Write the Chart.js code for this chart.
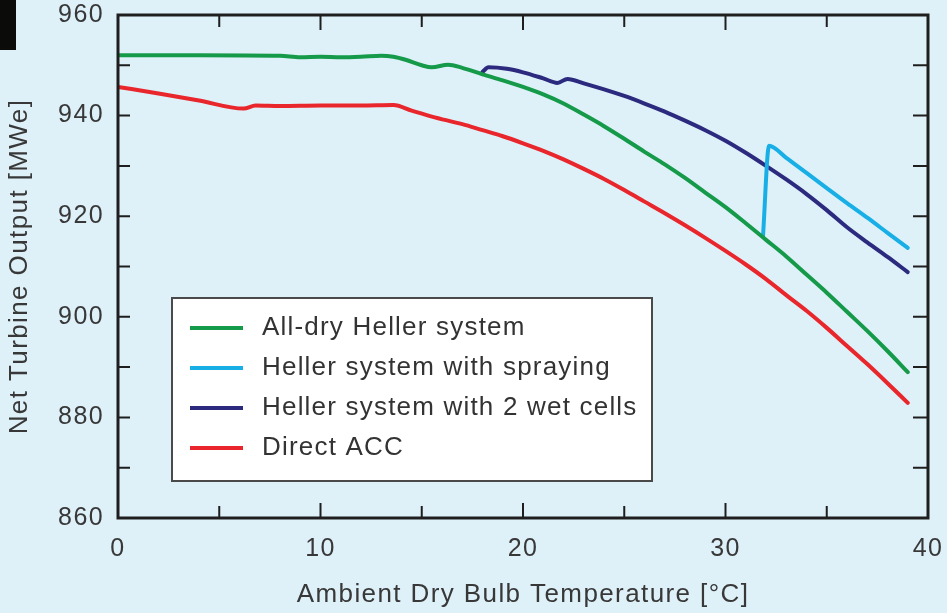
<!DOCTYPE html>
<html>
<head>
<meta charset="utf-8">
<script src="https://cdn.jsdelivr.net/npm/chart.js@4/dist/chart.umd.min.js"></script>
<style>
  html, body { margin: 0; padding: 0; background: #def0f8; }
  #wrap { position: relative; width: 947px; height: 613px; }
  #corner { position: absolute; left: 0; top: 0; width: 16px; height: 50px; background: #0b0b0a; }
</style>
</head>
<body>
<div id="wrap">
  <canvas id="turbineChart" width="947" height="613"></canvas>
  <div id="corner"></div>
</div>
<script>
// ambient temperature [°C] and net output [MWe] per cooling option
const tempDry = [0, 4, 8, 9, 10, 11, 12, 13, 13.6, 14.2, 15, 15.5, 16.3, 17, 18, 19, 20, 21, 22, 23, 24, 25, 26, 27, 28, 29, 30, 31, 32, 33, 34, 35, 36, 37, 38, 39];
const outDry = [952.0, 952.0, 951.9, 951.6, 951.7, 951.6, 951.7, 951.9, 951.7, 951.1, 950.0, 949.6, 950.1, 949.5, 948.2, 947.0, 945.7, 944.2, 942.4, 940.2, 937.9, 935.4, 932.8, 930.3, 927.6, 924.7, 921.8, 918.6, 915.3, 912.0, 908.4, 904.8, 901.0, 897.2, 893.2, 889.0];

const tempSpray = [31.85, 32.15, 33, 34, 35, 36, 37, 38, 39];
const outSpray = [915.9, 934.0, 931.6, 928.6, 925.6, 922.6, 919.7, 916.7, 913.7];

const tempWet = [18.0, 18.3, 19.2, 20, 21, 21.7, 22.2, 23, 24, 25, 26, 27, 28, 29, 30, 31, 32, 33, 34, 35, 36, 37, 38, 39];
const outWet = [948.7, 949.6, 949.3, 948.6, 947.4, 946.5, 947.3, 946.4, 945.2, 943.9, 942.4, 940.8, 939.0, 937.1, 935.0, 932.6, 930.0, 927.3, 924.4, 921.2, 917.8, 914.8, 911.9, 908.9];

const tempAcc = [0, 2, 4, 6.2, 6.8, 8, 10, 12, 13.6, 14.5, 15.5, 17, 18, 19, 20, 21, 22, 23, 24, 25, 26, 27, 28, 29, 30, 31, 32, 33, 34, 35, 36, 37, 38, 39];
const outAcc = [945.7, 944.4, 943.0, 941.4, 942.0, 941.9, 942.0, 942.0, 942.1, 941.0, 939.8, 938.3, 937.1, 935.9, 934.5, 933.0, 931.3, 929.4, 927.4, 925.2, 922.9, 920.6, 918.2, 915.7, 913.1, 910.4, 907.5, 904.3, 901.2, 897.8, 894.2, 890.6, 886.8, 882.9];

const seriesNames = ['All-dry Heller system', 'Heller system with spraying', 'Heller system with 2 wet cells', 'Direct ACC'];
const seriesColors = ['#159a4a', '#18afe6', '#2b2a7e', '#e8262b'];

const xTicks = [0, 10, 20, 30, 40];
const yTicks = [860, 880, 900, 920, 940, 960];

const TEXT = '#383838';
const FONT = "'Liberation Sans', Arial, sans-serif";

function pts(xs, ys) {
  return xs.map((x, i) => ({ x: x, y: ys[i] }));
}

// wider letter spacing for the axis text, reset before the plot is drawn
const spacingPlugin = {
  id: 'spacing',
  beforeLayout(chart) { chart.ctx.letterSpacing = '1.4px'; },
  beforeDraw(chart) { chart.ctx.letterSpacing = '1.4px'; },
  beforeDatasetsDraw(chart) { chart.ctx.letterSpacing = '0px'; }
};

// frame, inward ticks on all four sides and the boxed legend
const framePlugin = {
  id: 'frame',
  afterDatasetsDraw(chart) {
    const { ctx, chartArea: a, scales: { x, y } } = chart;
    ctx.save();
    ctx.strokeStyle = '#1e1e1e';
    ctx.lineWidth = 2;
    for (let t = 5; t < 40; t += 5) {
      const px = x.getPixelForValue(t);
      const len = t % 10 === 0 ? 15 : 12;
      ctx.beginPath();
      ctx.moveTo(px, a.bottom); ctx.lineTo(px, a.bottom - len);
      ctx.moveTo(px, a.top); ctx.lineTo(px, a.top + len);
      ctx.stroke();
    }
    for (let v = 870; v < 960; v += 10) {
      const py = y.getPixelForValue(v);
      ctx.beginPath();
      ctx.moveTo(a.left, py); ctx.lineTo(a.left + 12, py);
      ctx.moveTo(a.right, py); ctx.lineTo(a.right - 15, py);
      ctx.stroke();
    }
    ctx.lineWidth = 3;
    ctx.strokeRect(a.left, a.top, a.right - a.left, a.bottom - a.top);

    // legend
    const bx = a.left + 54, by = a.top + 283, bw = 480, bh = 183;
    ctx.fillStyle = '#ffffff';
    ctx.fillRect(bx, by, bw, bh);
    ctx.strokeStyle = '#4a4a4a';
    ctx.lineWidth = 2;
    ctx.strokeRect(bx, by, bw, bh);
    ctx.font = '26px ' + FONT;
    ctx.letterSpacing = '1.2px';
    ctx.textBaseline = 'middle';
    chart.data.datasets.forEach((ds, i) => {
      const ry = by + 30 + i * 40;
      ctx.strokeStyle = ds.borderColor;
      ctx.lineWidth = 4;
      ctx.beginPath();
      ctx.moveTo(bx + 18, ry); ctx.lineTo(bx + 71, ry);
      ctx.stroke();
      ctx.fillStyle = '#333333';
      ctx.fillText(ds.label, bx + 90, ry);
    });
    ctx.letterSpacing = '0px';
    ctx.restore();
  }
};

const ctx = document.getElementById('turbineChart').getContext('2d');
const turbineChart = new Chart(ctx, {
  type: 'line',
  data: {
    datasets: [
      { label: seriesNames[0], data: pts(tempDry, outDry), borderColor: seriesColors[0] },
      { label: seriesNames[1], data: pts(tempSpray, outSpray), borderColor: seriesColors[1] },
      { label: seriesNames[2], data: pts(tempWet, outWet), borderColor: seriesColors[2] },
      { label: seriesNames[3], data: pts(tempAcc, outAcc), borderColor: seriesColors[3] }
    ].map(d => Object.assign(d, { borderWidth: 4, pointRadius: 0, cubicInterpolationMode: 'monotone', fill: false, borderJoinStyle: 'round', borderCapStyle: 'round' }))
  },
  options: {
    responsive: false,
    animation: false,
    layout: { padding: { top: 15, right: 19, left: 0, bottom: 0 } },
    plugins: { legend: { display: false }, tooltip: { enabled: false } },
    scales: {
      x: {
        type: 'linear',
        min: 0, max: 40,
        afterBuildTicks(s) { s.ticks = xTicks.map(v => ({ value: v })); },
        afterFit(s) { s.height = 95; s.paddingLeft = 0; s.paddingRight = 0; },
        grid: { display: false, drawTicks: false },
        border: { display: false },
        ticks: { color: TEXT, font: { family: FONT, size: 25 }, padding: 16, maxRotation: 0 },
        title: { display: true, text: 'Ambient Dry Bulb Temperature [°C]', color: TEXT, font: { family: FONT, size: 26 }, padding: { top: 0, bottom: 3 } }
      },
      y: {
        min: 860, max: 960,
        afterBuildTicks(s) { s.ticks = yTicks.map(v => ({ value: v })); },
        afterFit(s) { s.width = 118; s.paddingTop = 0; s.paddingBottom = 0; },
        grid: { display: false, drawTicks: false },
        border: { display: false },
        ticks: { color: TEXT, font: { family: FONT, size: 25 }, padding: 14 },
        title: { display: true, text: 'Net Turbine Output [MWe]', color: TEXT, font: { family: FONT, size: 26 }, padding: { top: 4, bottom: 0 } }
      }
    }
  },
  plugins: [spacingPlugin, framePlugin]
});
</script>
</body>
</html>
